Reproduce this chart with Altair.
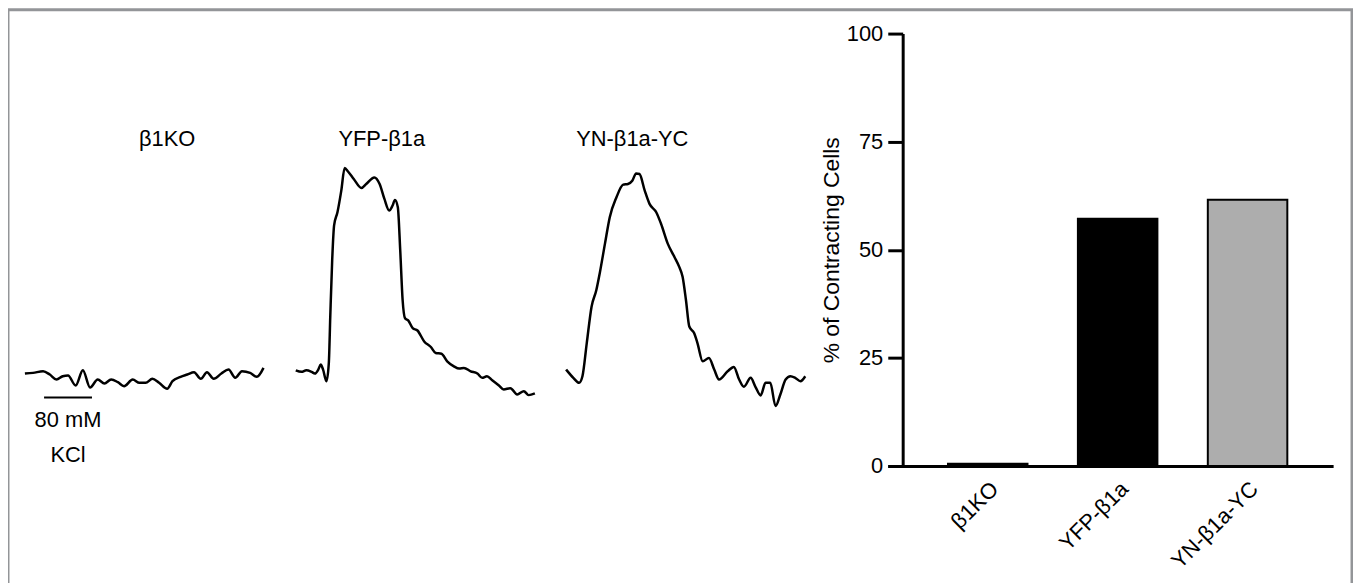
import altair as alt
import pandas as pd

FONT = "Liberation Sans"

# ---- Calcium / contraction traces (time in s, signal in arbitrary units) ----
t_ko = [0, 1.7, 3.8, 5.2, 6.6, 7.9, 9.0, 10.6, 12.1, 13.6, 15.2, 16.6, 18.0, 19.4, 20.7,
        22.5, 23.9, 25.2, 26.6, 28.0, 29.7, 30.8, 32.5, 33.9, 35.3, 36.7, 38.0, 39.4,
        41.0, 42.5, 43.9, 45.3, 47.0, 48.4, 49.8]
v_ko = [6, 6.7, 8.3, 5, 0, 3.3, 4, -6, 9.3, -8, 0, -4, 0, -2.7, -6.7,
        0, -3.3, -3.3, 0.7, -3.3, -9.3, -1.7, 2.7, 5, 7.3, 0.7, 7.3, 0.7,
        6, 10, 1.7, 8.3, 6.7, 2.7, 11.7]

t_yfp = [0.1, 1.3, 2.3, 3.4, 4.1, 4.8, 5.3, 5.8, 6.5, 7.0, 7.3, 7.7, 8.1, 8.8, 9.6,
         10.3, 11.0, 12.2, 13.8, 14.8, 16.5, 17.6, 18.6, 19.6, 20.3, 20.8, 21.4,
         21.9, 22.4, 22.9, 23.6, 24.5, 25.5, 26.9, 28.3, 29.3, 30.5, 31.7, 33.1,
         34.2, 35.2, 36.6, 38.0, 39.0, 40.0, 41.1, 42.5, 43.5, 44.9, 46.3, 47.7,
         48.7, 50.0]
v_yfp = [9.3, 7.7, 9.3, 7.7, 6, 10, 15, 10, -1.7, 16.7, 63.3, 120, 155, 168.3, 190,
         212.7, 209.3, 201.7, 192.7, 196.7, 203.3, 196.7, 181.7, 170, 175, 180.7, 173.3,
         130, 80, 61.7, 59.3, 51.7, 49.3, 38.3, 32.7, 26.7, 26, 18.3, 13.3,
         11, 11.7, 8.3, 6, 1.7, 3.3, -0.7, -6, -10, -8.7, -15, -11.7,
         -15.7, -14]

t_yn = [0.1, 1.6, 2.8, 3.5, 4.4, 5.4, 6.4, 7.1, 8.2, 9.2, 10.6, 12.0, 13.0, 13.9, 14.7,
        15.4, 16.5, 17.5, 18.9, 19.9, 21.3, 22.7, 23.7, 24.4, 25.1, 25.8, 26.8, 27.5,
        28.6, 29.9, 31.0, 32.0, 33.8, 35.1, 36.2, 37.2, 38.6, 39.6, 40.7, 41.7, 42.7,
        43.8, 44.8, 45.9, 46.9, 47.9, 49.0, 50.0]
v_yn = [10, 1.7, -3.3, 3.3, 36.7, 73.3, 90, 106.7, 136.7, 163.3, 183.3, 196, 196.7, 200, 207.3,
        206.7, 190, 176.7, 168.3, 156.7, 136.7, 123.3, 113.3, 103.3, 80, 53.3, 46.7, 36.7,
        18.3, 21.7, 10, 0, 8.3, 12.7, 0, -7.3, 1.7, -7.3, -16, -3.3, -3.3,
        -26.7, -15, 0, 3.3, 1.7, -1.7, 3.3]

trace_titles = ["\u03b21KO", "YFP-\u03b21a", "YN-\u03b21a-YC"]
scalebar_t = [4, 14]          # 10 s KCl application
scalebar_level = -18
scalebar_label = "80 mM\nKCl"

# ---- Bar chart ----
bar_groups = ["\u03b21KO", "YFP-\u03b21a", "YN-\u03b21a-YC"]
bar_values = [0.5, 57.2, 61.6]
bar_colors = ["#000000", "#000000", "#adadad"]
y_ticks = [0, 25, 50, 75, 100]

W, H = 1353, 582
TR_Y = alt.Scale(domain=[-30, 220], range=[402, 152], nice=False, zero=False)


def trace(t, v, xr):
    df = pd.DataFrame({"t": t, "v": v})
    return alt.Chart(df).mark_line(color="black", strokeWidth=2.5, interpolate="monotone").encode(
        x=alt.X("t:Q", scale=alt.Scale(domain=[0, 50], range=xr, nice=False, zero=False), axis=None),
        y=alt.Y("v:Q", scale=TR_Y, axis=None),
    )


bar_df = pd.DataFrame({"group": bar_groups, "value": bar_values})
bars = alt.Chart(bar_df).mark_bar(stroke="black", strokeWidth=2).encode(
    x=alt.X("group:N", sort=bar_groups,
            scale=alt.Scale(range=[885, 1333], paddingInner=0.388, paddingOuter=0.408, align=0.568),
            axis=alt.Axis(title=None, orient="bottom", offset=459 - H, labelAngle=-45, labelAlign="right",
                          labelBaseline="top", ticks=False, labelPadding=12, domainWidth=3,
                          domainColor="black", labelFontSize=22, labelColor="black", labelFont=FONT,
                          labelOverlap=False, grid=False)),
    y=alt.Y("value:Q", scale=alt.Scale(domain=[0, 100], range=[459, 24], nice=False),
            axis=alt.Axis(title="% of Contracting Cells", orient="left", offset=-900, values=y_ticks,
                          tickSize=15, tickWidth=3, tickColor="black", domainWidth=3, domainColor="black",
                          labelFontSize=22, labelFont=FONT, labelColor="black", labelPadding=5,
                          titleFontSize=23, titleFont=FONT, titleFontWeight="normal", titleColor="black",
                          titlePadding=3, grid=False)),
    color=alt.Color("group:N", scale=alt.Scale(domain=bar_groups, range=bar_colors), legend=None),
)

tr1 = trace(t_ko, v_ko, [17, 258])
tr2 = trace(t_yfp, v_yfp, [289, 530])
tr3 = trace(t_yn, v_yn, [561, 802])

sb_df = pd.DataFrame({"t0": [scalebar_t[0]], "t1": [scalebar_t[1]], "lvl": [scalebar_level],
                      "tm": [(scalebar_t[0] + scalebar_t[1]) / 2], "lab": [scalebar_label]})
sb_x = alt.Scale(domain=[0, 50], range=[17, 258], nice=False, zero=False)
scalebar = alt.Chart(sb_df).mark_rule(color="black", strokeWidth=2).encode(
    x=alt.X("t0:Q", scale=sb_x, axis=None), x2="t1:Q",
    y=alt.Y("lvl:Q", scale=TR_Y, axis=None),
)
scalebar_text = alt.Chart(sb_df).mark_text(font=FONT, fontSize=22, color="black", align="center",
                                           baseline="alphabetic", dy=30, lineBreak="\n",
                                           lineHeight=35).encode(
    x=alt.X("tm:Q", scale=sb_x, axis=None),
    y=alt.Y("lvl:Q", scale=TR_Y, axis=None),
    text="lab:N",
)

title_pos = [(160, 137), (376, 137), (628, 137)]
titles = [
    alt.Chart(pd.DataFrame({"lab": [lab]})).mark_text(font=FONT, fontSize=22, color="black",
                                                      align="center", baseline="alphabetic").encode(
        x=alt.value(px), y=alt.value(py), text="lab:N")
    for lab, (px, py) in zip(trace_titles, title_pos)
]

one = pd.DataFrame({"a": [0]})
BORDER = "#939598"
border_top = alt.Chart(one).mark_rule(color=BORDER, strokeWidth=3).encode(
    x=alt.value(0), x2=alt.value(W), y=alt.value(0))
border_left = alt.Chart(one).mark_rule(color=BORDER, strokeWidth=3).encode(
    x=alt.value(0), y=alt.value(0), y2=alt.value(H + 20))
border_right = alt.Chart(one).mark_rule(color=BORDER, strokeWidth=3).encode(
    x=alt.value(W - 1), y=alt.value(0), y2=alt.value(H + 20))

chart = alt.layer(
    bars, tr1, tr2, tr3, scalebar, scalebar_text, *titles, border_top, border_left, border_right
).resolve_scale(
    x="independent", y="independent", color="independent"
).properties(
    width=W, height=H, padding=0, autosize=alt.AutoSizeParams(type="none")
).configure_view(stroke=None)

chart.save("out.html", embed_options={"renderer": "svg", "actions": False})
